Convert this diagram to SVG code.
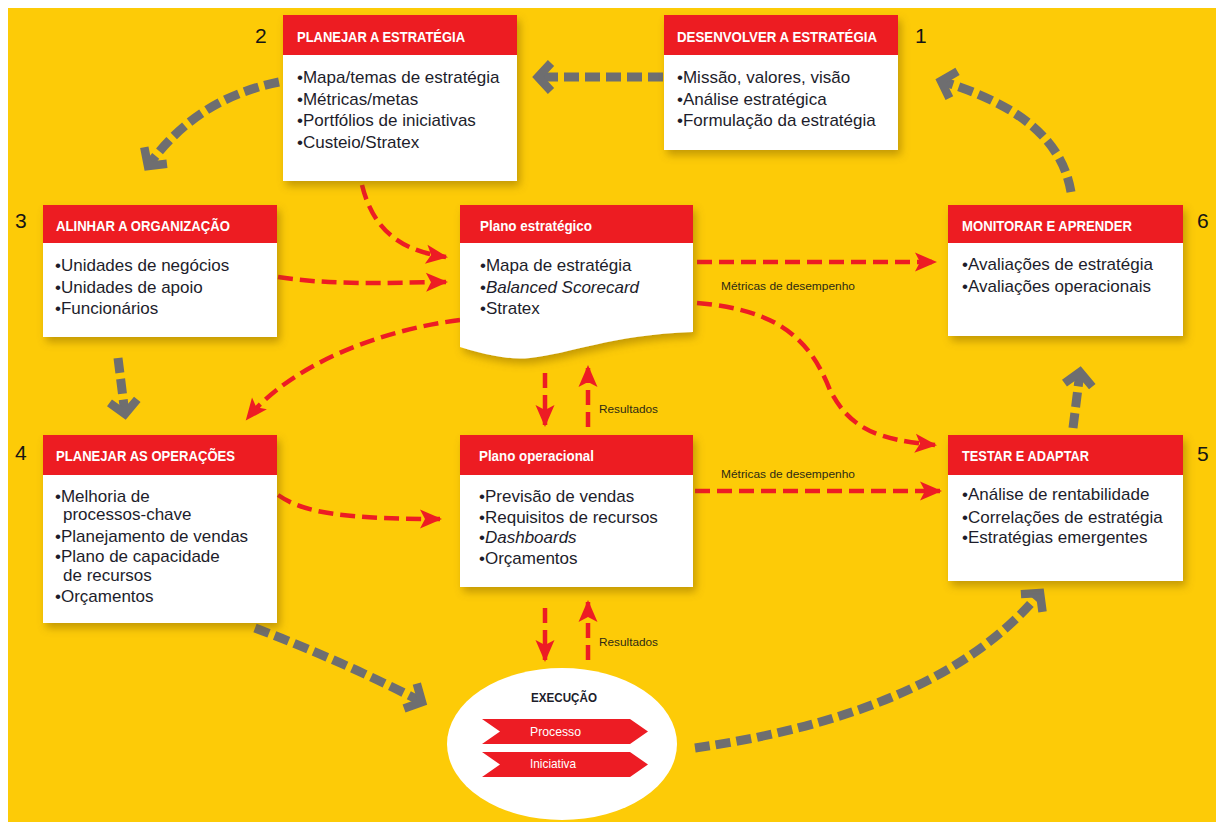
<svg xmlns="http://www.w3.org/2000/svg" width="1216" height="822" viewBox="0 0 1216 822">
  <style>
    .hd { fill: #ED1C24; }
    .bd { fill: #FFFFFF; }
    .ht { font-family: "Liberation Sans", Arial, sans-serif; font-weight: bold; font-size: 15px; fill: #FFFFFF; }
    .tx { font-family: "Liberation Sans", Arial, sans-serif; font-size: 17px; fill: #1d1d2b; }
    .it { font-style: italic; }
    .num { font-family: "Liberation Sans", Arial, sans-serif; font-size: 21px; fill: #151515; }
    .lbl { font-family: "Liberation Sans", Arial, sans-serif; font-size: 11.5px; fill: #2d2a14; }
    .gray { fill: none; stroke: #6E6E70; stroke-width: 9; stroke-dasharray: 15 6; }
    .red { fill: none; stroke: #ED1C24; stroke-width: 4.5; stroke-dasharray: 15 7; }
  </style>
  <defs>
    <filter id="shadow" x="-10%" y="-10%" width="125%" height="130%">
      <feDropShadow dx="3" dy="5" stdDeviation="4" flood-color="#7a5a00" flood-opacity="0.45"/>
    </filter>
    <marker id="gh" markerUnits="userSpaceOnUse" orient="auto" overflow="visible" markerWidth="1" markerHeight="1" refX="0" refY="0">
      <path d="M-13,-14 L0,0 L-13,14" fill="none" stroke="#6E6E70" stroke-width="8.5"/>
    </marker>
    <marker id="rh" markerUnits="userSpaceOnUse" orient="auto" overflow="visible" markerWidth="1" markerHeight="1" refX="0" refY="0">
      <path d="M2,0 L-20,-9.5 L-15,0 L-20,9.5 Z" fill="#ED1C24"/>
    </marker>
  </defs>

  <!-- background -->
  <rect x="8" y="8" width="1208" height="814" fill="#FDCB07"/>

  <!-- connectors -->
  <g id="connectors">
    <!-- grey cycle arrows -->
    <path class="gray" d="M663,77 H538" marker-end="url(#gh)"/>
    <path class="gray" d="M279,82 C230,92 185,115 148,166" marker-end="url(#gh)"/>
    <path class="gray" d="M118,358 L125,414" marker-end="url(#gh)"/>
    <path class="gray" d="M255,628 Q340,660 422,702" marker-end="url(#gh)"/>
    <path class="gray" d="M695,748 C820,730 960,690 1040,593" marker-end="url(#gh)"/>
    <path class="gray" d="M1073,428 L1080,372" marker-end="url(#gh)"/>
    <path class="gray" d="M1071,192 C1062,140 1020,105 941,81" marker-end="url(#gh)"/>

    <!-- red information flows -->
    <path class="red" d="M362,185 C372,225 395,250 446,257" marker-end="url(#rh)"/>
    <path class="red" d="M278,277 C330,285 380,283 446,282" marker-end="url(#rh)"/>
    <path class="red" d="M460,320 C380,330 290,365 247,419" marker-end="url(#rh)"/>
    <path class="red" d="M278,495 C300,510 330,519 440,519" marker-end="url(#rh)"/>
    <path class="red" d="M697,262 H935" marker-end="url(#rh)"/>
    <path class="red" d="M697,303 C780,310 810,340 830,390 C850,430 880,440 935,445" marker-end="url(#rh)"/>
    <path class="red" d="M695,491 H940" marker-end="url(#rh)"/>
    <path class="red" d="M545,373 V425" marker-end="url(#rh)"/>
    <path class="red" d="M588,427 V367" marker-end="url(#rh)"/>
    <path class="red" d="M545,608 V660" marker-end="url(#rh)"/>
    <path class="red" d="M588,660 V602" marker-end="url(#rh)"/>

    <text class="lbl" x="721" y="290" textLength="134" lengthAdjust="spacingAndGlyphs">Métricas de desempenho</text>
    <text class="lbl" x="721" y="478" textLength="134" lengthAdjust="spacingAndGlyphs">Métricas de desempenho</text>
    <text class="lbl" x="599" y="413" textLength="59" lengthAdjust="spacingAndGlyphs">Resultados</text>
    <text class="lbl" x="599" y="646" textLength="59" lengthAdjust="spacingAndGlyphs">Resultados</text>
  </g>

  <!-- 1: Desenvolver a estratégia -->
  <g id="desenvolver">
    <g filter="url(#shadow)">
      <rect class="bd" x="664" y="15" width="234" height="135"/>
      <rect class="hd" x="664" y="15" width="234" height="40"/>
    </g>
    <text class="ht" x="677" y="42" textLength="200" lengthAdjust="spacingAndGlyphs">DESENVOLVER A ESTRATÉGIA</text>
    <text class="tx" x="677" y="83">•Missão, valores, visão</text>
    <text class="tx" x="677" y="105">•Análise estratégica</text>
    <text class="tx" x="677" y="126">•Formulação da estratégia</text>
    <text class="num" x="915" y="43">1</text>
  </g>

  <!-- 2: Planejar a estratégia -->
  <g id="planejar-estrategia">
    <g filter="url(#shadow)">
      <rect class="bd" x="283" y="15" width="234" height="166"/>
      <rect class="hd" x="283" y="15" width="234" height="40"/>
    </g>
    <text class="ht" x="297" y="42" textLength="168" lengthAdjust="spacingAndGlyphs">PLANEJAR A ESTRATÉGIA</text>
    <text class="tx" x="297" y="83">•Mapa/temas de estratégia</text>
    <text class="tx" x="297" y="105">•Métricas/metas</text>
    <text class="tx" x="297" y="126">•Portfólios de iniciativas</text>
    <text class="tx" x="297" y="148">•Custeio/Stratex</text>
    <text class="num" x="255" y="43">2</text>
  </g>

  <!-- 3: Alinhar a organização -->
  <g id="alinhar">
    <g filter="url(#shadow)">
      <rect class="bd" x="43" y="205" width="234" height="132"/>
      <rect class="hd" x="43" y="205" width="234" height="38"/>
    </g>
    <text class="ht" x="56" y="231" textLength="174" lengthAdjust="spacingAndGlyphs">ALINHAR A ORGANIZAÇÃO</text>
    <text class="tx" x="55" y="271">•Unidades de negócios</text>
    <text class="tx" x="55" y="293">•Unidades de apoio</text>
    <text class="tx" x="55" y="314">•Funcionários</text>
    <text class="num" x="15" y="228">3</text>
  </g>

  <!-- Plano estratégico (document shape) -->
  <g id="plano-estrategico">
    <g filter="url(#shadow)">
      <path class="bd" d="M460,243 H693 V332 C610,335 570,354 530,358 C510,360 490,356 460,347 Z"/>
      <rect class="hd" x="460" y="205" width="233" height="38"/>
    </g>
    <text class="ht" x="480" y="231" textLength="112" lengthAdjust="spacingAndGlyphs">Plano estratégico</text>
    <text class="tx" x="480" y="271">•Mapa de estratégia</text>
    <text class="tx" x="480" y="293">•<tspan class="it">Balanced Scorecard</tspan></text>
    <text class="tx" x="480" y="314">•Stratex</text>
  </g>

  <!-- 6: Monitorar e aprender -->
  <g id="monitorar">
    <g filter="url(#shadow)">
      <rect class="bd" x="948" y="205" width="235" height="131"/>
      <rect class="hd" x="948" y="205" width="235" height="38"/>
    </g>
    <text class="ht" x="962" y="231" textLength="170" lengthAdjust="spacingAndGlyphs">MONITORAR E APRENDER</text>
    <text class="tx" x="962" y="270">•Avaliações de estratégia</text>
    <text class="tx" x="962" y="292">•Avaliações operacionais</text>
    <text class="num" x="1197" y="228">6</text>
  </g>

  <!-- 4: Planejar as operações -->
  <g id="planejar-operacoes">
    <g filter="url(#shadow)">
      <rect class="bd" x="43" y="435" width="234" height="188"/>
      <rect class="hd" x="43" y="435" width="234" height="40"/>
    </g>
    <text class="ht" x="56" y="461" textLength="179" lengthAdjust="spacingAndGlyphs">PLANEJAR AS OPERAÇÕES</text>
    <text class="tx" x="55" y="502">•Melhoria de</text>
    <text class="tx" x="63" y="520">processos-chave</text>
    <text class="tx" x="55" y="542">•Planejamento de vendas</text>
    <text class="tx" x="55" y="562">•Plano de capacidade</text>
    <text class="tx" x="63" y="581">de recursos</text>
    <text class="tx" x="55" y="602">•Orçamentos</text>
    <text class="num" x="15" y="460">4</text>
  </g>

  <!-- Plano operacional -->
  <g id="plano-operacional">
    <g filter="url(#shadow)">
      <rect class="bd" x="460" y="435" width="233" height="152"/>
      <rect class="hd" x="460" y="435" width="233" height="40"/>
    </g>
    <text class="ht" x="479" y="461" textLength="115" lengthAdjust="spacingAndGlyphs">Plano operacional</text>
    <text class="tx" x="479" y="502">•Previsão de vendas</text>
    <text class="tx" x="479" y="523">•Requisitos de recursos</text>
    <text class="tx" x="479" y="543">•<tspan class="it">Dashboards</tspan></text>
    <text class="tx" x="479" y="564">•Orçamentos</text>
  </g>

  <!-- 5: Testar e adaptar -->
  <g id="testar">
    <g filter="url(#shadow)">
      <rect class="bd" x="948" y="435" width="235" height="146"/>
      <rect class="hd" x="948" y="435" width="235" height="40"/>
    </g>
    <text class="ht" x="962" y="461" textLength="127" lengthAdjust="spacingAndGlyphs">TESTAR E ADAPTAR</text>
    <text class="tx" x="962" y="500">•Análise de rentabilidade</text>
    <text class="tx" x="962" y="523">•Correlações de estratégia</text>
    <text class="tx" x="962" y="543">•Estratégias emergentes</text>
    <text class="num" x="1197" y="461">5</text>
  </g>

  <!-- Execução -->
  <g id="execucao">
    <ellipse cx="562" cy="744" rx="115" ry="76" fill="#FFFFFF"/>
    <text x="531" y="702" font-family="'Liberation Sans', Arial, sans-serif" font-weight="bold" font-size="13.5" fill="#1d1d2b" textLength="66" lengthAdjust="spacingAndGlyphs">EXECUÇÃO</text>
    <polygon points="482,719 630,719 648,731.5 630,744 482,744 500,731.5" fill="#ED1C24"/>
    <polygon points="482,752 630,752 648,764.5 630,777 482,777 500,764.5" fill="#ED1C24"/>
    <text x="530" y="736" font-family="'Liberation Sans', Arial, sans-serif" font-size="13" fill="#FFFFFF" textLength="51" lengthAdjust="spacingAndGlyphs">Processo</text>
    <text x="530" y="768" font-family="'Liberation Sans', Arial, sans-serif" font-size="13" fill="#FFFFFF" textLength="46" lengthAdjust="spacingAndGlyphs">Iniciativa</text>
  </g>
</svg>
